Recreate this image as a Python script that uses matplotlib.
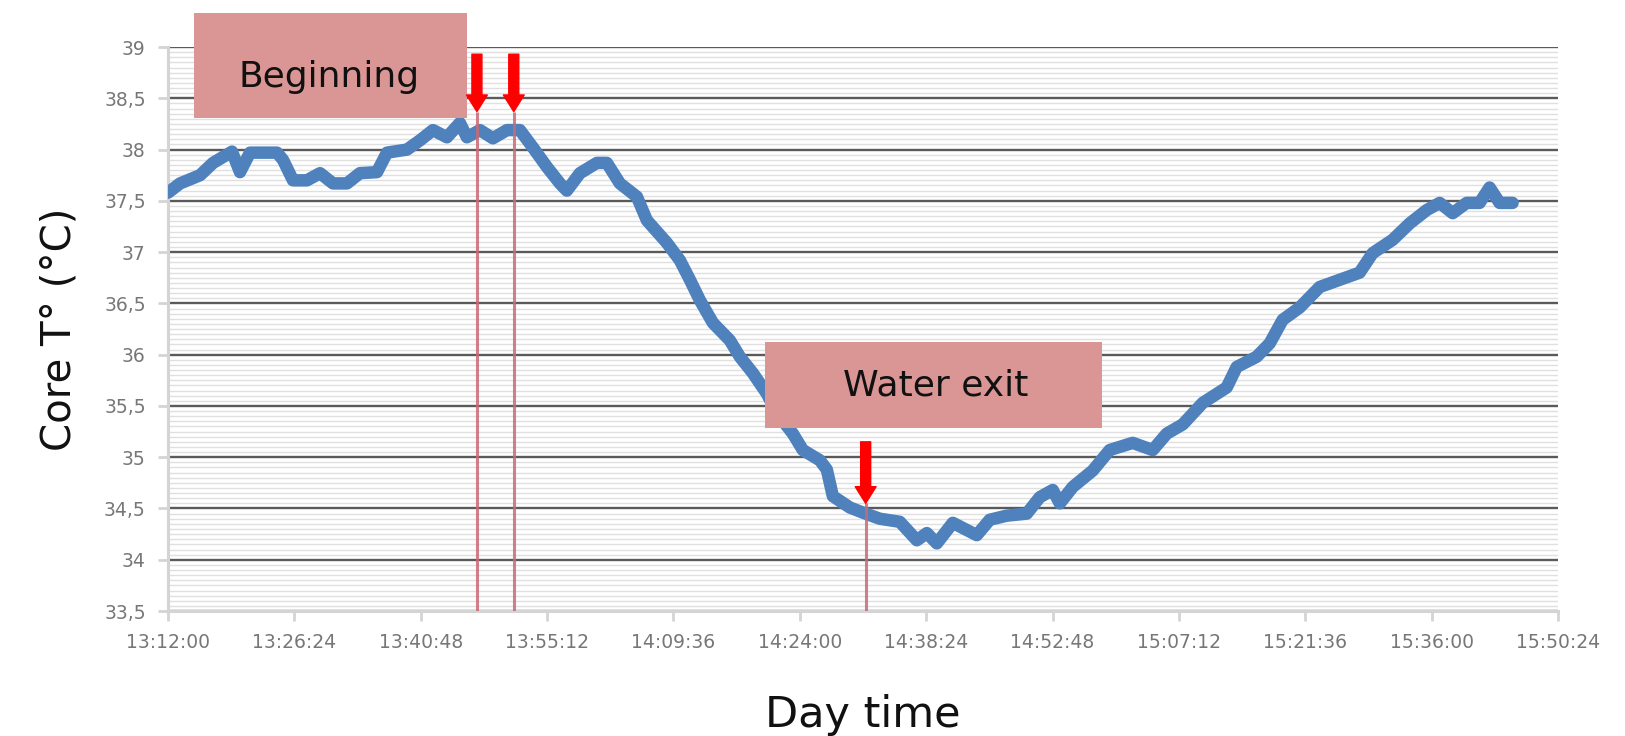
import matplotlib
matplotlib.use('Agg')
import matplotlib.pyplot as plt
import matplotlib.dates as mdates
from matplotlib.patches import Rectangle
from matplotlib.ticker import FuncFormatter, MultipleLocator
import pandas as pd

# Time axis limits
start = pd.Timestamp('2000-01-01 13:12:00')
end = pd.Timestamp('2000-01-01 15:50:24')

# Core temperature: minutes after 13:12:00 and value (°C)
minutes = [0.0, 1.37, 3.65, 5.13, 7.29, 8.20, 9.34, 10.82, 12.42, 13.10,
           14.24, 15.83, 17.32, 18.80, 20.39, 21.87, 23.81, 24.95, 27.23, 28.71,
           30.19, 31.78, 33.26, 34.06, 35.54, 37.02, 38.62, 40.10, 41.58, 43.18,
           44.66, 45.45, 46.94, 48.87, 50.01, 51.49, 53.43, 54.57, 56.85, 58.33,
           59.47, 60.61, 62.09, 64.02, 65.16, 66.64, 68.24, 69.38, 71.20, 72.34,
           74.28, 75.07, 75.76, 77.69, 79.17, 81.11, 83.39, 85.33, 86.47, 87.61,
           89.43, 91.02, 92.16, 93.64, 95.58, 97.86, 99.34, 100.82, 101.62, 103.10,
           105.38, 107.31, 109.93, 112.21, 113.81, 115.63, 117.91, 120.64, 121.78, 124.06,
           125.54, 127.02, 128.96, 131.24, 133.51, 135.79, 137.27, 139.55, 141.49, 143.43,
           144.91, 146.39, 147.98, 149.46, 150.60, 151.74, 153.22]
core_t = [37.58, 37.67, 37.75, 37.87, 37.98, 37.78, 37.97, 37.97, 37.97, 37.90,
          37.70, 37.70, 37.77, 37.67, 37.67, 37.77, 37.78, 37.97, 38.00, 38.09,
          38.19, 38.12, 38.26, 38.12, 38.19, 38.11, 38.19, 38.19, 38.02, 37.83,
          37.67, 37.60, 37.77, 37.87, 37.87, 37.67, 37.54, 37.31, 37.09, 36.92,
          36.73, 36.53, 36.31, 36.14, 35.98, 35.82, 35.62, 35.43, 35.23, 35.07,
          34.97, 34.88, 34.62, 34.51, 34.46, 34.40, 34.37, 34.19, 34.26, 34.16,
          34.36, 34.29, 34.24, 34.39, 34.43, 34.45, 34.61, 34.68, 34.55, 34.71,
          34.87, 35.07, 35.14, 35.07, 35.23, 35.32, 35.53, 35.68, 35.88, 35.98,
          36.11, 36.34, 36.46, 36.66, 36.73, 36.80, 36.99, 37.12, 37.28, 37.41,
          37.48, 37.38, 37.48, 37.48, 37.63, 37.48, 37.48]

# Event markers (minutes after start) with arrow top / tip in °C
event_min = [35.2, 39.4, 79.5]
arrow_top = [38.93, 38.93, 35.15]
arrow_tip = [38.37, 38.37, 34.55]

time = start + pd.to_timedelta(minutes, unit='min')
event_time = start + pd.to_timedelta(event_min, unit='min')

fig = plt.figure(figsize=(16.25, 7.36), dpi=100)
ax = fig.add_axes([0.1034, 0.1698, 0.8554, 0.7663])

# gridlines
ax.set_axisbelow(True)
ax.yaxis.set_major_locator(MultipleLocator(0.5))
ax.yaxis.set_minor_locator(MultipleLocator(0.05))
ax.grid(which='minor', axis='y', color='#e0e0e0', lw=1.0)
ax.grid(which='major', axis='y', color='#5a5a5a', lw=1.7)

ax.plot(time, core_t, color='#4f81bd', lw=9, solid_joinstyle='round',
        solid_capstyle='round', zorder=3)

# event lines and arrows
ax.vlines(event_time, 33.5, arrow_tip, colors='#c86a76', lw=2.2, alpha=0.85, zorder=4)
for t, top, tip in zip(event_time, arrow_top, arrow_tip):
    xn = mdates.date2num(t)
    ax.annotate('', xy=(xn, tip), xytext=(xn, top),
                arrowprops=dict(arrowstyle='simple,head_length=0.6,head_width=0.75,tail_width=0.36',
                                color='#ff0000', mutation_scale=20, shrinkA=0, shrinkB=0),
                zorder=6)

# label boxes
box_col = '#d99694'
ax.add_patch(Rectangle((0.0187, 0.874), 0.1964, 0.186, transform=ax.transAxes,
                       fc=box_col, ec='none', clip_on=False, zorder=5))
ax.text(0.116, 0.947, 'Beginning', transform=ax.transAxes, ha='center', va='center',
        fontsize=26, color='#111111', zorder=6)
ax.add_patch(Rectangle((0.4295, 0.3245), 0.2425, 0.1525, transform=ax.transAxes,
                       fc=box_col, ec='none', clip_on=False, zorder=5))
ax.text(0.5525, 0.4007, 'Water exit', transform=ax.transAxes, ha='center', va='center',
        fontsize=26, color='#111111', zorder=6)

# axes
ax.set_xlim(start, end)
ax.set_ylim(33.5, 39)
ax.set_xticks(pd.date_range(start, end, freq='864s'))
ax.xaxis.set_major_formatter(mdates.DateFormatter('%H:%M:%S'))
ax.yaxis.set_major_formatter(FuncFormatter(lambda v, p: ('%g' % v).replace('.', ',')))

for s in ['top', 'right']:
    ax.spines[s].set_visible(False)
for s in ['left', 'bottom']:
    ax.spines[s].set_color('#d4d4d4')
    ax.spines[s].set_linewidth(2.2)
    ax.spines[s].set_zorder(2.6)

ax.tick_params(which='major', axis='both', color='#d4d4d4', width=2, length=7,
               labelsize=13.5, labelcolor='#777777', pad=9)
ax.tick_params(which='minor', axis='y', length=0)

ax.set_xlabel('Day time', fontsize=31, labelpad=30, color='#111111')
ax.set_ylabel('Core T° (°C)', fontsize=29, labelpad=18, color='#111111')

fig.savefig('out.png', dpi=100, facecolor='w')
